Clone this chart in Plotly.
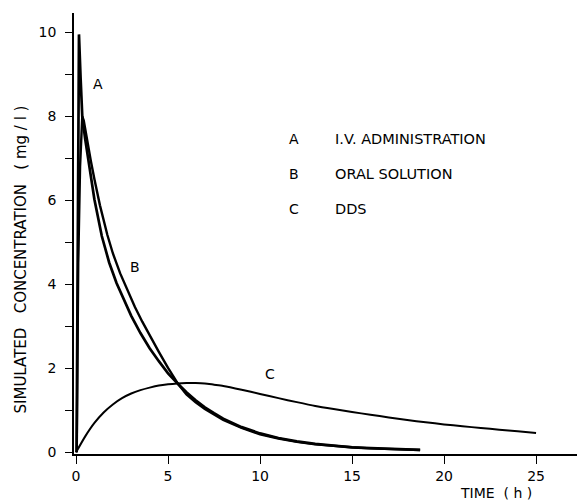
import plotly.graph_objects as go

# ---- data ----
time_a = [0.03, 0.16, 0.25, 0.34, 0.5, 0.7, 1.0, 1.4, 1.8, 2.2, 2.6, 3.0, 3.5, 4.0, 4.5, 5.0,
          5.56, 6.0, 6.5, 7.0, 7.5, 8.0, 9.0, 10.0, 11.0, 12.0, 13.0, 14.0, 15.0, 16.0, 17.0, 18.0, 18.7]
conc_a = [0.0, 9.95, 8.9, 8.0, 7.45, 6.85, 6.02, 5.15, 4.52, 4.03, 3.62, 3.25, 2.84, 2.48, 2.17, 1.88,
          1.62, 1.43, 1.24, 1.07, 0.93, 0.8, 0.6, 0.45, 0.34, 0.26, 0.2, 0.16, 0.12, 0.1, 0.08, 0.07, 0.06]

time_b = [0.04, 0.12, 0.22, 0.34, 0.42, 0.55, 0.8, 1.0, 1.3, 1.7, 2.0, 2.4, 2.8, 3.2, 3.6, 4.0, 4.5,
          5.0, 5.56, 6.0, 6.5, 7.0, 7.5, 8.0, 9.0, 10.0, 11.0, 12.0, 13.0, 14.0, 15.0, 16.0, 17.0, 18.0, 18.7]
conc_b = [0.0, 4.5, 6.8, 8.0, 7.9, 7.55, 6.95, 6.5, 5.88, 5.18, 4.74, 4.26, 3.84, 3.46, 3.11, 2.78, 2.39,
          2.01, 1.62, 1.38, 1.19, 1.03, 0.89, 0.77, 0.58, 0.43, 0.33, 0.25, 0.19, 0.15, 0.12, 0.095, 0.078, 0.065, 0.055]

time_c = [0, 0.5, 1, 1.5, 2, 2.5, 3, 3.5, 4, 4.5, 5, 5.5, 6, 6.5, 7, 7.5, 8, 9, 10, 11, 12, 13,
          14, 15, 16, 17, 18, 19, 20, 21, 22, 23, 24, 25]
conc_c = [0.0, 0.38, 0.7, 0.95, 1.14, 1.29, 1.4, 1.48, 1.54, 1.59, 1.62, 1.64, 1.65, 1.65, 1.64, 1.61,
          1.58, 1.49, 1.39, 1.29, 1.195, 1.105, 1.03, 0.96, 0.895, 0.83, 0.77, 0.715, 0.665, 0.62, 0.58, 0.54, 0.5, 0.46]

x_tickvals = [0, 5, 10, 15, 20, 25]
x_ticktext = ["0", "5", "10", "15", "20", "25"]
y_tickvals = [0, 1, 2, 3, 4, 5, 6, 7, 8, 9, 10]
y_ticktext = ["0", "", "2", "", "4", "", "6", "", "8", "", "10"]

curve_labels = ["A", "B", "C"]
curve_label_t = [1.2, 3.18, 10.52]
curve_label_c = [8.77, 4.41, 1.86]

legend_keys = ["A", "B", "C"]
legend_texts = ["I.V. ADMINISTRATION", "ORAL SOLUTION", "DDS"]
legend_c = [7.46, 6.63, 5.80]

FONT = "DejaVu Sans"

# figure is placed by the page at an 8px body margin, so it is 8px smaller than the window
W, H = 577, 494
ML, MR, MT, MB = 66, 0, 5, 48
PW, PH = W - ML - MR, H - MT - MB


def px_to_paper(px, py):
    """Window pixel -> paper coords (page offset 8px)."""
    fx, fy = px - 8, py - 8
    return (fx - ML) / PW, (MT + PH - fy) / PH


fig = go.Figure()
fig.add_trace(go.Scatter(x=time_a, y=conc_a, mode="lines", line=dict(color="black", width=2.7)))
fig.add_trace(go.Scatter(x=time_b, y=conc_b, mode="lines", line=dict(color="black", width=2.4)))
fig.add_trace(go.Scatter(x=time_c, y=conc_c, mode="lines",
                         line=dict(color="black", width=2.0, shape="spline", smoothing=0.6)))

ann = []
for lab, t, c in zip(curve_labels, curve_label_t, curve_label_c):
    ann.append(dict(x=t, y=c, xref="x", yref="y", text=lab, showarrow=False,
                    xanchor="center", yanchor="middle",
                    font=dict(family=FONT, size=14, color="black")))
for key, txt, c in zip(legend_keys, legend_texts, legend_c):
    ann.append(dict(x=11.85, y=c, xref="x", yref="y", text=key, showarrow=False,
                    xanchor="center", yanchor="middle",
                    font=dict(family=FONT, size=14, color="black")))
    ann.append(dict(x=13.97, y=c, xref="x", yref="y", text=txt, showarrow=False,
                    xanchor="left", yanchor="middle",
                    font=dict(family=FONT, size=14.5, color="black")))

tx, ty = px_to_paper(20.5, 260)
ann.append(dict(x=tx, y=ty, xref="paper", yref="paper", textangle=-90, showarrow=False,
                xanchor="center", yanchor="middle",
                text="SIMULATED\u00a0\u00a0 CONCENTRATION\u00a0\u00a0 ( mg / l )",
                font=dict(family=FONT, size=15, color="black")))
tx, ty = px_to_paper(496, 493)
ann.append(dict(x=tx, y=ty, xref="paper", yref="paper", text="TIME\u00a0 ( h )", showarrow=False,
                xanchor="center", yanchor="middle",
                font=dict(family=FONT, size=14, color="black")))

fig.update_layout(
    width=W, height=H,
    margin=dict(l=ML, r=MR, t=MT, b=MB, pad=0),
    paper_bgcolor="white", plot_bgcolor="white",
    showlegend=False,
    annotations=ann,
    xaxis=dict(range=[-0.11, 27.66], showgrid=False, zeroline=False, showline=True,
               linecolor="black", linewidth=1.5, ticks="outside", ticklen=8, tickwidth=1.3,
               tickcolor="black", tickvals=x_tickvals, ticktext=x_ticktext,
               tickfont=dict(family=FONT, size=14, color="black")),
    yaxis=dict(range=[-0.04, 10.46], showgrid=False, zeroline=False, showline=True,
               linecolor="black", linewidth=1.5, ticks="outside", ticklen=7, tickwidth=1.3,
               tickcolor="black", tickvals=y_tickvals, ticktext=y_ticktext,
               ticklabelstandoff=6,
               tickfont=dict(family=FONT, size=14, color="black")),
)

fig.write_html("out.html")
